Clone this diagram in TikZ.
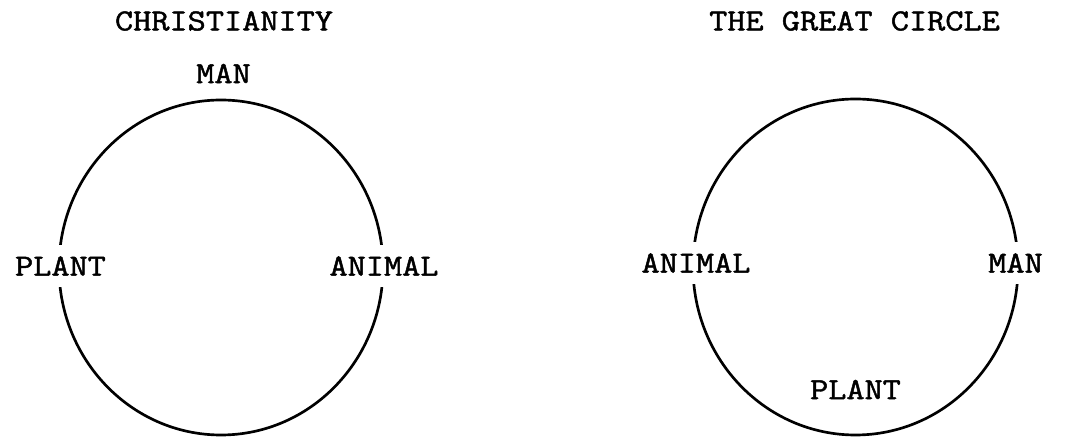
\documentclass[tikz,border=0pt]{standalone}
\usepackage{fontspec}
\newfontfamily\typewfont{Latin Modern Mono}[FakeBold=1.4]

\begin{document}
\begin{tikzpicture}[x=0.75pt,y=0.75pt,
  lbl/.style={font=\fontsize{23}{27}\selectfont\typewfont,xscale=1.15,inner sep=0pt},
  cut/.style={lbl,fill=white,minimum height=31pt},
  ring/.style={line width=2pt},
]
\useasboundingbox (0,0) rectangle (1070,438);
% ---------------- CHRISTIANITY (left) ----------------
\coordinate (c1) at (221,170.5);
\draw[ring] (c1) ellipse [x radius=162, y radius=167.5];
\node[lbl] (title1) at (224,417) {CHRISTIANITY};
\node[lbl] (man1) at (223.5,364.5) {MAN};
\node[cut] (plant1) at (60.5,172) {PLANT};
\node[cut] (animal1) at (384,172) {ANIMAL};

% ---------------- THE GREAT CIRCLE (right) ----------------
\coordinate (c2) at (855.5,171);
\draw[ring] (c2) ellipse [x radius=162.5, y radius=168];
\node[lbl] (title2) at (854.5,417) {THE GREAT CIRCLE};
\node[cut] (animal2) at (696,175) {ANIMAL};
\node[cut] (man2) at (1015.5,175) {MAN};
\node[lbl] (plant2) at (855.5,48.5) {PLANT};
\end{tikzpicture}
\end{document}
